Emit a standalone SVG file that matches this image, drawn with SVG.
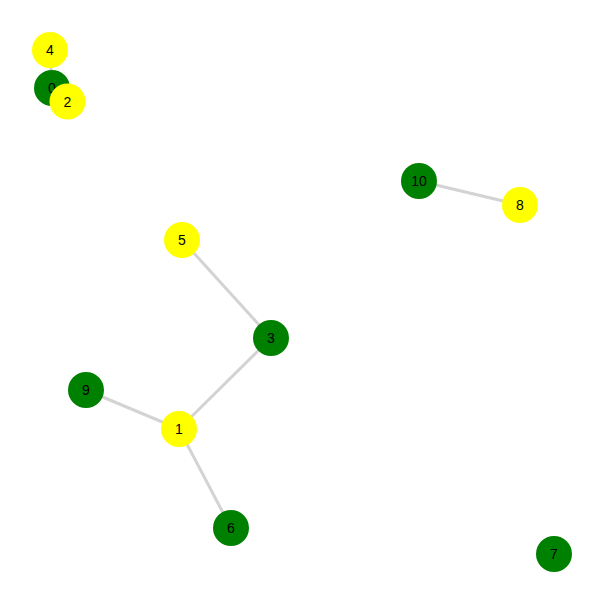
<svg xmlns="http://www.w3.org/2000/svg" width="605" height="605" viewBox="0 0 605 605">
<style>
.link{stroke:#d3d3d3;stroke-width:3;fill:none}
.g{fill:#008000}
.y{fill:#ffff00}
text{font-family:"Liberation Sans",Arial,sans-serif;font-size:14px;text-anchor:middle;fill:#000}
</style>
<rect width="605" height="605" fill="#fff"/>
<g id="links">
<line class="link" x1="50" y1="50" x2="52" y2="88"/>
<line class="link" x1="419" y1="181" x2="520" y2="205"/>
<line class="link" x1="182" y1="240" x2="271" y2="338"/>
<line class="link" x1="271" y1="338" x2="179" y2="429"/>
<line class="link" x1="86" y1="390" x2="179" y2="429"/>
<line class="link" x1="179" y1="429" x2="231" y2="528"/>
</g>
<g id="node-4"><circle class="y" cx="50" cy="50" r="18"/><text x="50" y="55">4</text></g>
<g id="node-0"><circle class="g" cx="52" cy="88" r="18"/><text x="52" y="93">0</text></g>
<g id="node-2"><circle class="y" cx="67.5" cy="101.5" r="18"/><text x="67.5" y="106.5">2</text></g>
<g id="node-10"><circle class="g" cx="419" cy="181" r="18"/><text x="419" y="186">10</text></g>
<g id="node-8"><circle class="y" cx="520" cy="205" r="18"/><text x="520" y="210">8</text></g>
<g id="node-5"><circle class="y" cx="182" cy="240" r="18"/><text x="182" y="245">5</text></g>
<g id="node-3"><circle class="g" cx="271" cy="338" r="18"/><text x="271" y="343">3</text></g>
<g id="node-9"><circle class="g" cx="86" cy="390" r="18"/><text x="86" y="395">9</text></g>
<g id="node-1"><circle class="y" cx="179" cy="429" r="18"/><text x="179" y="434">1</text></g>
<g id="node-6"><circle class="g" cx="231" cy="528" r="18"/><text x="231" y="533">6</text></g>
<g id="node-7"><circle class="g" cx="554" cy="554" r="18"/><text x="554" y="559">7</text></g>
</svg>
